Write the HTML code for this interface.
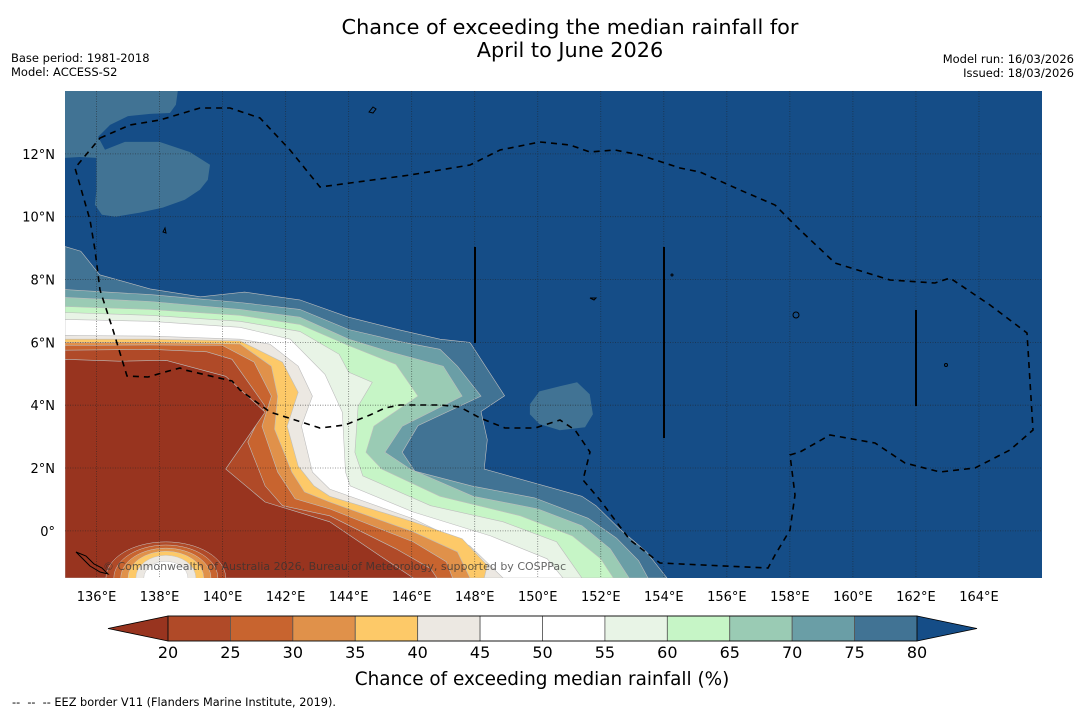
<!DOCTYPE html>
<html><head><meta charset="utf-8">
<style>
body{margin:0;background:#fff;width:1085px;height:713px;overflow:hidden;font-family:"Liberation Sans","DejaVu Sans",sans-serif;}
svg text{font-family:"DejaVu Sans","Liberation Sans",sans-serif;}
</style></head>
<body>
<svg id="chart" width="1085" height="713" viewBox="0 0 1085 713" xmlns="http://www.w3.org/2000/svg">
<defs><clipPath id="mapclip"><rect x="65" y="91" width="977" height="487"/></clipPath></defs>
<text x="570" y="34" font-size="20.8" text-anchor="middle" fill="#000">Chance of exceeding the median rainfall for</text>
<text x="570" y="57" font-size="20.8" text-anchor="middle" fill="#000">April to June 2026</text>
<text x="11" y="62" font-size="11.5">Base period: 1981-2018</text>
<text x="11" y="76" font-size="11.5">Model: ACCESS-S2</text>
<text x="1074" y="63" font-size="11.5" text-anchor="end">Model run: 16/03/2026</text>
<text x="1074" y="77" font-size="11.5" text-anchor="end">Issued: 18/03/2026</text>
<g id="map" clip-path="url(#mapclip)">
<rect x="65" y="91" width="977" height="487" fill="#154d87"/>
<g id="contours"></g>
<g id="grid"></g>
<path fill="none" stroke="#000" stroke-width="1.6" stroke-dasharray="6,5" d="M100,138 L130,125 L160,120 L200,108 L230,108 L260,118 L290,150 L320,187 L350,183 L410,175 L470,165 L480,160 L500,150 L540,142 L570,145 L590,152 L615,150 L640,155 L680,168 L700,172 L740,190 L775,205 L800,230 L835,263 L890,280 L935,283 L950,278 L990,305 L1027,333 L1033,430 L1010,450 L975,468 L940,472 L905,463 L875,443 L830,435 L800,452 L790,455 L795,495 L790,530 L775,555 L768,568 L660,563 L630,540 L600,500 L583,480 L590,452 L575,430 L560,420 L535,428 L505,428 L480,418 L460,407 L440,405 L400,405 L385,408 L370,415 L345,425 L320,428 L295,420 L270,412 L240,390 L232,381 L185,370 L180,368 L165,372 L148,377 L127,376 L113,330 L100,290 L95,250 L90,220 L75,168 Z"/>
<line x1="475" y1="247" x2="475" y2="343" stroke="#000" stroke-width="2"/>
<line x1="664" y1="247" x2="664" y2="438" stroke="#000" stroke-width="2"/>
<line x1="916" y1="310" x2="916" y2="406" stroke="#000" stroke-width="2"/>
<g fill="none" stroke="#000" stroke-width="1">
<path d="M369,112 l4,-5 l3,2 l-3,4 z"/><circle cx="796" cy="315" r="3"/><path d="M76,552 l10,4 l8,8 l8,4 l6,6 l-8,-2 l-10,-6 l-8,-8 z"/>
<path d="M163,232 l2,-4 l1,5 z"/><path d="M590,298 l6,0 l-2,2 z"/><circle cx="946" cy="365" r="1.5"/><circle cx="672" cy="275" r="1"/>
</g>
<text x="103" y="570" font-size="11" fill="#333" fill-opacity="0.75">© Commonwealth of Australia 2026, Bureau of Meteorology, supported by COSPPac</text>
</g>
<g id="axes"></g>
<g id="colorbar"></g>
<text x="542" y="685" font-size="18.4" text-anchor="middle">Chance of exceeding median rainfall (%)</text>
<text x="12" y="706" font-size="11.3" xml:space="preserve">--  --  -- EEZ border V11 (Flanders Marine Institute, 2019).</text>
</svg>
<script>
const NS="http://www.w3.org/2000/svg";
const lonMin=135, lonMax=166, latMin=-1.5, latMax=14;
const lonTicks=[136,138,140,142,144,146,148,150,152,154,156,158,160,162,164];
const latTicks=[0,2,4,6,8,10,12];
const levels=[80,75,70,65,60,55,45,40,35,30,25,20];
const levelColors=["#417394","#6a9ea6","#9acbb4","#c6f5c6","#e8f4e6","#ffffff","#ece8e2","#fdc968","#e0914a","#c8642f","#b04a28","#98341f"];
const c80=[[135,9.05],[135.5,8.9],[136.1,8.15],[137.7,7.7],[139.3,7.45],[140.7,7.6],[142.45,7.35],[144,6.8],[145.6,6.4],[146.9,6.1],[147.85,6.0],[148.95,4.3],[148.2,3.8],[148.4,2.9],[148.3,1.97],[151.4,1.1],[151.85,0.8],[152.6,0.06],[153.45,-0.67],[154.1,-1.5]];
const c75=[[135,7.68],[137.7,7.52],[140.55,7.27],[142.45,7.05],[144,6.41],[145.6,6.03],[146.9,5.78],[147.45,5.24],[148.2,4.29],[146.2,3.35],[145.7,2.5],[146.1,1.9],[147.9,1.43],[149.9,1.05],[151.6,0.4],[152.5,-0.23],[153.2,-0.95],[153.5,-1.5]];
const c70=[[135,7.43],[137.7,7.3],[140.55,7.05],[142.45,6.8],[144,6.1],[145.3,5.7],[147,5.24],[147.6,4.29],[145.7,3.33],[145.15,2.5],[145.95,1.97],[147.95,1.1],[150,0.7],[151.4,0.16],[152.3,-0.57],[152.9,-1.5]];
const c65=[[135,7.14],[137.7,7.05],[140.55,6.86],[142.45,6.57],[144,5.9],[145.5,5.3],[146.2,4.29],[144.8,3.33],[144.55,2.5],[145.05,1.97],[146.9,1.1],[149.45,0.48],[151.1,-0.16],[152,-0.89],[152.4,-1.5]];
const c60=[[135,6.95],[137.7,6.86],[140.55,6.67],[142.45,6.35],[143.7,5.62],[144,5.05],[144.75,4.73],[144.3,3.97],[144.2,2.5],[144.45,1.75],[146.6,0.8],[148.9,0.29],[150.6,-0.35],[151.4,-1.5]];
const c55=[[135,6.73],[137.7,6.67],[140.55,6.48],[142.15,6.1],[143.25,4.98],[143.8,3.78],[143.9,1.87],[144.05,1.43],[146.05,0.6],[148.5,-0.16],[150.3,-0.89],[150.8,-1.5]];
const c45=[[135,6.22],[137.7,6.2],[140.55,6.1],[141.5,5.94],[142.4,5.24],[142.85,4.29],[142.5,3.33],[142.85,1.87],[143.4,1.33],[146.05,0.38],[147.85,-0.48],[148.9,-1.5]];
const c40=[[135,6.1],[137.7,6.1],[140.55,6.05],[141.9,5.37],[142.4,4.41],[142.05,3.33],[142.4,2.06],[142.9,1.43],[143.4,1.1],[146.05,0.29],[147.6,-0.25],[148.4,-1.1],[148.3,-1.5]];
const c35=[[135,6.0],[137.7,6.0],[140.55,5.95],[141.55,5.24],[141.75,4.29],[141.65,3.24],[142.2,1.87],[142.6,1.24],[143.4,0.92],[146.05,-0.03],[147.45,-0.67],[147.85,-1.5]];
const c30=[[135,5.9],[137.7,5.92],[140,5.9],[141.0,5.37],[141.55,4.29],[141.25,3.33],[141.75,1.87],[142.3,1.02],[143.4,0.7],[146.05,-0.35],[147.1,-0.98],[147.3,-1.5]];
const c25=[[135,5.75],[137.7,5.78],[139.5,5.7],[140.3,5.46],[141.35,3.97],[140.8,2.83],[141.35,1.43],[141.9,0.8],[143.4,0.48],[145.5,-0.57],[146.6,-1.2],[146.8,-1.5]];
const c20=[[135,5.46],[136.7,5.4],[138.2,5.43],[140.1,4.92],[141.35,3.78],[140.1,1.97],[141.35,0.92],[143.4,0.29],[145.0,-0.8],[146.05,-1.5]];
const contourLines=[c80,c75,c70,c65,c60,c55,c45,c40,c35,c30,c25,c20];
const patchTopLeft=[[135,14],[138.58,14],[138.52,13.56],[138.33,13.3],[137.7,13.27],[137,13.2],[136.43,12.92],[136.05,12.54],[136.27,12.13],[136.9,12.38],[138.0,12.38],[138.96,12.06],[139.6,11.65],[139.53,11.17],[139.28,10.86],[138.8,10.54],[138.1,10.29],[137.38,10.13],[136.6,10.0],[136.17,10.06],[135.95,10.38],[136.0,10.86],[136.0,11.87],[135.48,11.9],[135,11.87]];
const patchEast=[[149.75,4.03],[150.05,4.44],[150.7,4.6],[151.25,4.73],[151.65,4.35],[151.75,3.71],[151.5,3.3],[150.7,3.2],[150.05,3.4],[149.75,3.71]];
const bumpLevels=[20,25,30,35,40,45];
const bumpTopLat=[-0.35,-0.45,-0.55,-0.65,-0.78,-0.97];
const bumpHalfLon=[1.9,1.65,1.43,1.2,0.95,0.7];
const bumpColors=["#b04a28","#c8642f","#e0914a","#fdc968","#ece8e2","#ffffff"];
const bumpCenterLon=138.2;
const cbTicks=[20,25,30,35,40,45,50,55,60,65,70,75,80];
const cbColors=["#b04a28","#c8642f","#e0914a","#fdc968","#ece8e2","#ffffff","#ffffff","#e8f4e6","#c6f5c6","#9acbb4","#6a9ea6","#417394"];
const cbLow="#98341f", cbHigh="#154d87";

const X=lon=>65+(lon-lonMin)*(977/(lonMax-lonMin));
const Y=lat=>91+(latMax-lat)*(487/(latMax-latMin));
function mk(tag,attrs,parent){const e=document.createElementNS(NS,tag);for(const k in attrs)e.setAttribute(k,attrs[k]);parent.appendChild(e);return e;}
const pts=a=>a.map(p=>X(p[0]).toFixed(1)+","+Y(p[1]).toFixed(1)).join(" ");

const cg=document.getElementById("contours");
contourLines.forEach((line,i)=>{
  const poly=line.concat([[lonMin,latMin]]);
  const e=mk("polygon",{points:pts(poly),fill:levelColors[i],stroke:"#bdbdbd","stroke-width":"0.6"},cg);
  
  
});
[patchTopLeft,patchEast].forEach((p,i)=>{
  const e=mk("polygon",{points:pts(p),fill:"#417394"},cg);
  
  
});
bumpLevels.forEach((lv,i)=>{
  const cx=X(bumpCenterLon), cy=Y(latMin), rx=X(bumpCenterLon+bumpHalfLon[i])-cx, ry=cy-Y(bumpTopLat[i]);
  const e=mk("ellipse",{cx:cx,cy:cy,rx:rx,ry:ry,fill:bumpColors[i],stroke:"#c8c8c8","stroke-width":"0.5"},cg);
  
  
});

const gg=document.getElementById("grid");
lonTicks.forEach(l=>{const e=mk("line",{x1:X(l),x2:X(l),y1:91,y2:578,stroke:"#222","stroke-opacity":"0.6","stroke-width":"0.8","stroke-dasharray":"1,1.5"},gg);
  
  });
latTicks.forEach(l=>{const e=mk("line",{x1:65,x2:1042,y1:Y(l),y2:Y(l),stroke:"#222","stroke-opacity":"0.6","stroke-width":"0.8","stroke-dasharray":"1,1.5"},gg);
  
  });

const ag=document.getElementById("axes");
lonTicks.forEach(l=>{const t=mk("text",{x:X(l),y:601,"font-size":"13","text-anchor":"middle"},ag);t.textContent=l+"°E";
  
  });
latTicks.forEach(l=>{const t=mk("text",{x:55,y:Y(l)+5,"font-size":"13","text-anchor":"end"},ag);t.textContent=l===0?"0°":l+"°N";
  
  });

const cb=document.getElementById("colorbar");
const cbX0=168,cbX1=917,cbY0=616,cbY1=641,cbW=(cbX1-cbX0)/cbColors.length;
const lt=mk("polygon",{points:`108,${(cbY0+cbY1)/2} ${cbX0},${cbY0} ${cbX0},${cbY1}`,fill:cbLow,stroke:"#000","stroke-width":"0.8"},cb);


const rt=mk("polygon",{points:`977,${(cbY0+cbY1)/2} ${cbX1},${cbY0} ${cbX1},${cbY1}`,fill:cbHigh,stroke:"#000","stroke-width":"0.8"},cb);


cbColors.forEach((c,i)=>{const r=mk("rect",{x:cbX0+i*cbW,y:cbY0,width:cbW,height:cbY1-cbY0,fill:c,stroke:"#555","stroke-width":"0.8"},cb);
  
  });
const ol=mk("rect",{x:cbX0,y:cbY0,width:cbX1-cbX0,height:cbY1-cbY0,fill:"none",stroke:"#000","stroke-width":"0.8"},cb);


cbTicks.forEach((v,i)=>{const t=mk("text",{x:cbX0+i*cbW,y:658,"font-size":"16","text-anchor":"middle"},cb);t.textContent=v;
  
  });
</script>
</body></html>
